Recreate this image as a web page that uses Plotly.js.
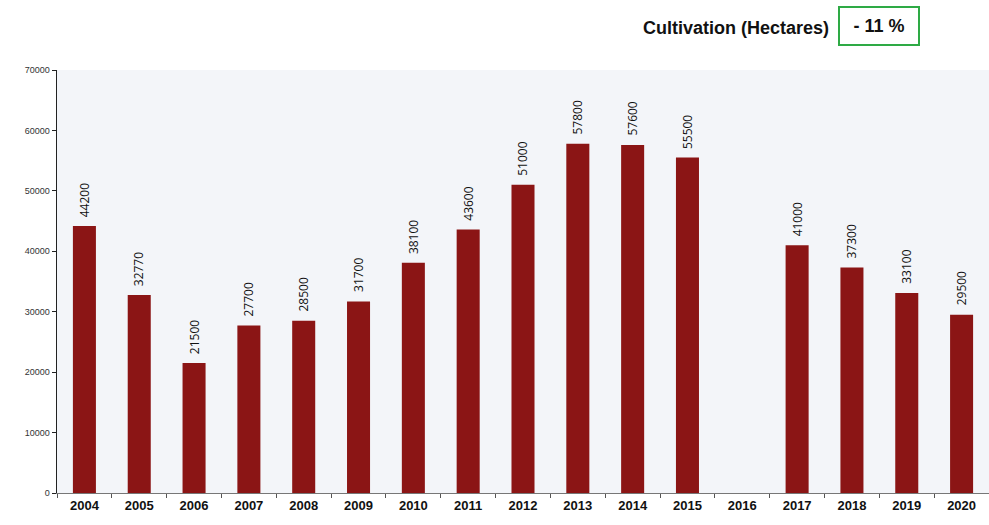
<!DOCTYPE html>
<html><head><meta charset="utf-8">
<script src="https://cdn.plot.ly/plotly-3.0.1.min.js"></script>
<style>html,body{margin:0;padding:0;background:#fff}#c{width:989px;height:525px}</style>
</head><body><div id="c"></div>
<script>
const years = ['2004','2005','2006','2007','2008','2009','2010','2011','2012','2013','2014','2015','2016','2017','2018','2019','2020'];
const hectares = [44200,32770,21500,27700,28500,31700,38100,43600,51000,57800,57600,55500,null,41000,37300,33100,29500];
const yTicks = [0,10000,20000,30000,40000,50000,60000,70000];
const yTickText = ['0','10000','20000','30000','40000','50000','60000','70000'];
const titleText = 'Cultivation (Hectares)';
const changeText = '- 11 %';

const trace = {
  type:'bar', x: years, y: hectares,
  marker:{color:'#8b1515', line:{width:0}},
  width:0.42, hoverinfo:'none'
};
const valueLabels = [];
years.forEach((yr,i) => {
  if (hectares[i] === null) return;
  valueLabels.push({x:i, y:hectares[i], xref:'x', yref:'y', text:String(hectares[i]),
    textangle:-90, showarrow:false, yanchor:'bottom', xanchor:'center', yshift:7,
    font:{family:'Open Sans, Noto Sans, sans-serif', size:12, color:'#111'}});
});
const layout = {
  width:989, height:525,
  margin:{l:57, r:0, t:70, b:32},
  paper_bgcolor:'#ffffff', plot_bgcolor:'#f3f5f9',
  showlegend:false, bargap:0.58,
  xaxis:{type:'category', categoryarray:years, range:[-0.5, years.length-0.5], autorange:false,
    showgrid:false, zeroline:false,
    ticks:'outside', tickson:'boundaries', ticklen:4, tickcolor:'#555',
    showline:true, linecolor:'#777', linewidth:1,
    tickfont:{family:'Liberation Sans, Arial, sans-serif', size:13, color:'#111', weight:'bold'}},
  yaxis:{range:[0,70000], tickvals:yTicks, ticktext:yTickText, showgrid:false, zeroline:false,
    ticks:'outside', ticklen:4, tickcolor:'#222', showline:true, linecolor:'#222', linewidth:1.5,
    tickfont:{family:'Liberation Sans, Arial, sans-serif', size:9, color:'#333'}},
  annotations: valueLabels.concat([
    {xref:'paper', yref:'paper', x:(831-57)/932, xanchor:'right', y:1, yanchor:'bottom',
     text:'<b>'+titleText+'</b>', showarrow:false, yshift:30,
     font:{family:'Liberation Sans, Arial, sans-serif', size:18, color:'#111'}},
    {xref:'paper', yref:'paper', x:(879-57)/932, xanchor:'center', y:1, yanchor:'bottom',
     text:'<b>'+changeText+'</b>', showarrow:false, yshift:24,
     bordercolor:'#2eaa45', borderwidth:2, borderpad:8, bgcolor:'#ffffff', width:62,
     font:{family:'Liberation Sans, Arial, sans-serif', size:18, color:'#111'}}
  ])
};
Plotly.newPlot('c',[trace],layout,{displayModeBar:false,staticPlot:true});
</script></body></html>
